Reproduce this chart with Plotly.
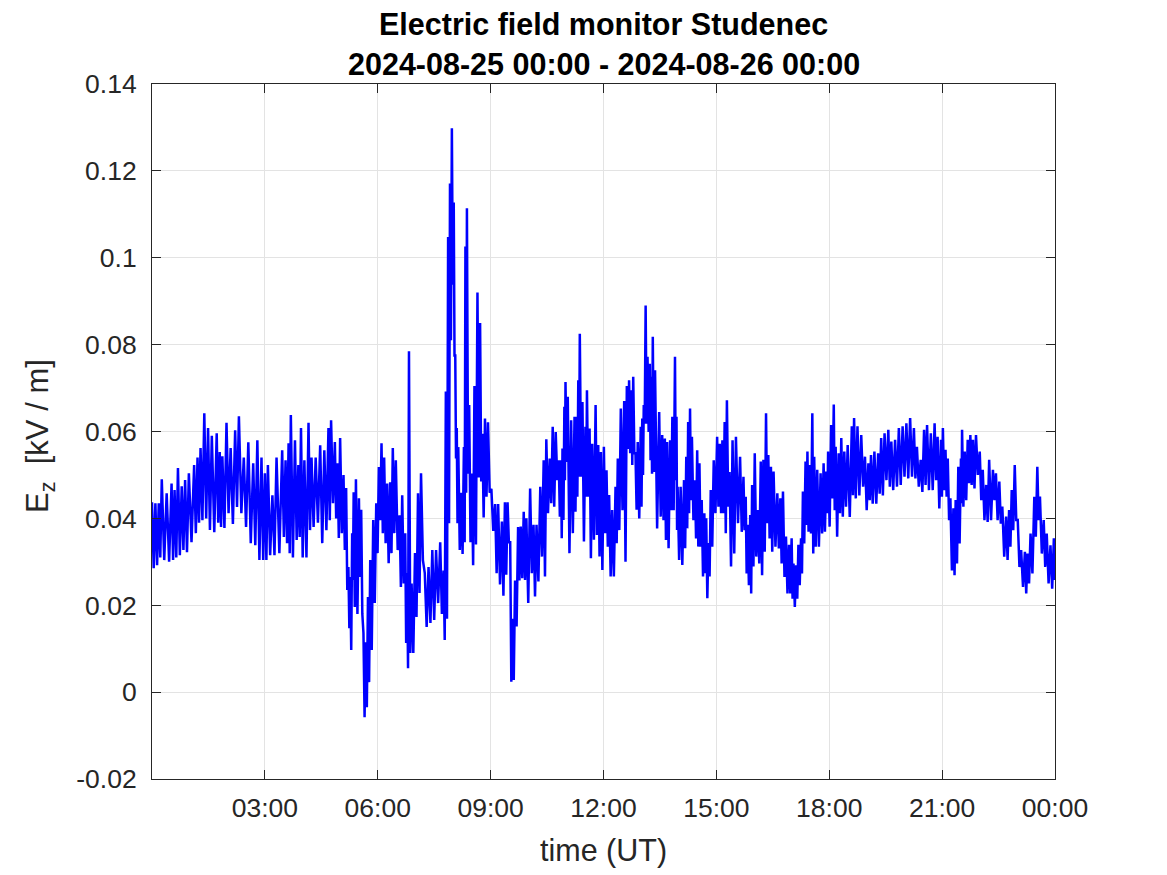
import plotly.graph_objects as go
import pandas as pd

# ---- data (hours after 2024-08-25 00:00 UT, kV/m) ----
hours = [
    0.00, 0.09, 0.18, 0.26, 0.39, 0.52, 0.60, 0.69, 0.79, 0.88, 0.98, 1.12, 1.21, 1.29, 1.39, 1.49,
    1.59, 1.72, 1.80, 1.87, 1.98, 2.09, 2.21, 2.31, 2.44, 2.56, 2.69, 2.80, 2.91, 3.00, 3.08, 3.20,
    3.31, 3.46, 3.55, 3.63, 3.69, 3.80, 3.89, 3.96, 4.05, 4.16, 4.24, 4.35, 4.47, 4.58, 4.69, 4.76,
    4.86, 4.93, 5.00, 5.09, 5.16, 5.22, 5.27, 5.32, 5.36, 5.42, 5.50, 5.56, 5.62, 5.68, 5.74, 5.80,
    5.88, 5.96, 6.03, 6.10, 6.17, 6.25, 6.33, 6.40, 6.48, 6.58, 6.65, 6.73, 6.78, 6.83, 6.90, 6.99,
    7.07, 7.15, 7.25, 7.35, 7.45, 7.55, 7.66, 7.75, 7.81, 7.87, 7.92, 7.97, 8.02, 8.06, 8.10, 8.14,
    8.22, 8.29, 8.33, 8.37, 8.43, 8.50, 8.57, 8.65, 8.72, 8.78, 8.85, 8.93, 9.02, 9.12, 9.20, 9.30,
    9.38, 9.45, 9.52, 9.58, 9.65, 9.73, 9.80, 9.88, 9.95, 10.05, 10.14, 10.22, 10.32, 10.41, 10.48, 10.57,
    10.65, 10.73, 10.81, 10.87, 10.91, 10.96, 10.99, 11.05, 11.14, 11.23, 11.28, 11.33, 11.37, 11.44, 11.52, 11.56,
    11.63, 11.70, 11.79, 11.86, 11.93, 12.01, 12.08, 12.15, 12.23, 12.32, 12.38, 12.46, 12.55, 12.62, 12.68, 12.74,
    12.79, 12.85, 12.91, 12.99, 13.03, 13.07, 13.12, 13.17, 13.23, 13.27, 13.31, 13.37, 13.48, 13.56, 13.63, 13.69,
    13.77, 13.83, 13.90, 13.94, 13.97, 14.05, 14.14, 14.20, 14.25, 14.30, 14.35, 14.43, 14.49, 14.55, 14.61, 14.68,
    14.73, 14.79, 14.85, 14.93, 15.02, 15.09, 15.16, 15.22, 15.28, 15.35, 15.43, 15.52, 15.63, 15.72, 15.78, 15.83,
    15.90, 15.95, 16.02, 16.10, 16.18, 16.25, 16.32, 16.38, 16.45, 16.52, 16.62, 16.70, 16.77, 16.85, 16.93, 17.00,
    17.05, 17.12, 17.18, 17.25, 17.30, 17.37, 17.42, 17.48, 17.55, 17.60, 17.68, 17.77, 17.85, 17.92, 17.97, 18.05,
    18.12, 18.17, 18.25, 18.32, 18.40, 18.49, 18.60, 18.66, 18.75, 18.85, 18.95, 19.04, 19.11, 19.20, 19.30, 19.38,
    19.47, 19.57, 19.65, 19.75, 19.85, 19.95, 20.05, 20.15, 20.25, 20.33, 20.43, 20.52, 20.60, 20.70, 20.80, 20.88,
    20.97, 21.02, 21.09, 21.15, 21.22, 21.30, 21.36, 21.43, 21.50, 21.53, 21.60, 21.68, 21.75, 21.82, 21.90, 22.00,
    22.08, 22.17, 22.25, 22.35, 22.43, 22.52, 22.60, 22.70, 22.78, 22.85, 22.93, 23.01, 23.10, 23.20, 23.27, 23.35,
    23.45, 23.53, 23.60, 23.70, 23.78, 23.88, 23.97,
]

e_high = [
    0.0437, 0.0435, 0.0435, 0.0490, 0.0458, 0.0480, 0.0465, 0.0516, 0.0474, 0.0488, 0.0504, 0.0523, 0.0540, 0.0562, 0.0642, 0.0608,
    0.0590, 0.0596, 0.0553, 0.0543, 0.0620, 0.0562, 0.0603, 0.0635, 0.0540, 0.0575, 0.0527, 0.0580, 0.0540, 0.0504, 0.0523, 0.0453,
    0.0540, 0.0557, 0.0534, 0.0573, 0.0638, 0.0580, 0.0523, 0.0608, 0.0534, 0.0620, 0.0540, 0.0540, 0.0568, 0.0557, 0.0608, 0.0626,
    0.0576, 0.0527, 0.0585, 0.0500, 0.0470, 0.0288, 0.0265, 0.0366, 0.0460, 0.0490, 0.0446, 0.0420, 0.0136, 0.0115, 0.0219, 0.0304,
    0.0396, 0.0435, 0.0518, 0.0573, 0.0540, 0.0480, 0.0483, 0.0562, 0.0534, 0.0407, 0.0453, 0.0366, 0.0274, 0.0785, 0.0250, 0.0320,
    0.0458, 0.0504, 0.0274, 0.0288, 0.0327, 0.0327, 0.0345, 0.0280, 0.0692, 0.1048, 0.1171, 0.1298, 0.1127, 0.0775, 0.0608, 0.0564,
    0.0459, 0.0564, 0.1026, 0.1114, 0.0661, 0.0503, 0.0705, 0.0920, 0.0850, 0.0595, 0.0630, 0.0621, 0.0468, 0.0433, 0.0433, 0.0393,
    0.0437, 0.0437, 0.0345, 0.0169, 0.0257, 0.0380, 0.0381, 0.0415, 0.0400, 0.0469, 0.0385, 0.0385, 0.0473, 0.0534, 0.0582, 0.0538,
    0.0611, 0.0599, 0.0534, 0.0534, 0.0561, 0.0657, 0.0714, 0.0680, 0.0626, 0.0634, 0.0634, 0.0718, 0.0825, 0.0668, 0.0611, 0.0695,
    0.0607, 0.0572, 0.0661, 0.0569, 0.0553, 0.0565, 0.0511, 0.0454, 0.0419, 0.0473, 0.0538, 0.0653, 0.0670, 0.0705, 0.0718, 0.0695,
    0.0726, 0.0550, 0.0576, 0.0611, 0.0630, 0.0661, 0.0890, 0.0772, 0.0756, 0.0726, 0.0818, 0.0741, 0.0645, 0.0592, 0.0584, 0.0576,
    0.0580, 0.0634, 0.0772, 0.0634, 0.0473, 0.0473, 0.0488, 0.0542, 0.0622, 0.0653, 0.0588, 0.0488, 0.0557, 0.0527, 0.0442, 0.0412,
    0.0400, 0.0343, 0.0465, 0.0534, 0.0588, 0.0572, 0.0580, 0.0622, 0.0672, 0.0507, 0.0580, 0.0588, 0.0542, 0.0496, 0.0450, 0.0385,
    0.0408, 0.0477, 0.0550, 0.0419, 0.0531, 0.0535, 0.0642, 0.0546, 0.0519, 0.0508, 0.0458, 0.0446, 0.0462, 0.0358, 0.0339, 0.0354,
    0.0296, 0.0292, 0.0339, 0.0354, 0.0462, 0.0531, 0.0554, 0.0523, 0.0642, 0.0542, 0.0512, 0.0504, 0.0527, 0.0508, 0.0554, 0.0615,
    0.0662, 0.0565, 0.0550, 0.0585, 0.0554, 0.0569, 0.0612, 0.0631, 0.0612, 0.0592, 0.0542, 0.0527, 0.0546, 0.0554, 0.0550, 0.0585,
    0.0596, 0.0604, 0.0577, 0.0581, 0.0608, 0.0612, 0.0619, 0.0631, 0.0608, 0.0565, 0.0535, 0.0604, 0.0615, 0.0596, 0.0619, 0.0588,
    0.0581, 0.0608, 0.0558, 0.0538, 0.0446, 0.0423, 0.0442, 0.0519, 0.0538, 0.0604, 0.0554, 0.0581, 0.0592, 0.0581, 0.0592, 0.0554,
    0.0512, 0.0477, 0.0535, 0.0512, 0.0504, 0.0485, 0.0427, 0.0404, 0.0419, 0.0465, 0.0523, 0.0396, 0.0327, 0.0323, 0.0319, 0.0365,
    0.0450, 0.0519, 0.0450, 0.0396, 0.0365, 0.0338, 0.0354,
]

e_low = [
    0.0285, 0.0292, 0.0310, 0.0304, 0.0300, 0.0304, 0.0310, 0.0315, 0.0327, 0.0322, 0.0345, 0.0366, 0.0390, 0.0396, 0.0400, 0.0373,
    0.0368, 0.0390, 0.0380, 0.0378, 0.0412, 0.0387, 0.0426, 0.0412, 0.0380, 0.0343, 0.0338, 0.0304, 0.0304, 0.0304, 0.0315, 0.0315,
    0.0320, 0.0357, 0.0343, 0.0320, 0.0310, 0.0350, 0.0357, 0.0310, 0.0310, 0.0373, 0.0380, 0.0390, 0.0343, 0.0373, 0.0396, 0.0435,
    0.0400, 0.0355, 0.0366, 0.0327, 0.0235, 0.0147, 0.0097, 0.0258, 0.0196, 0.0180, 0.0265, 0.0180, -0.0058, -0.0035, 0.0023, 0.0097,
    0.0205, 0.0320, 0.0396, 0.0366, 0.0343, 0.0297, 0.0320, 0.0366, 0.0327, 0.0242, 0.0250, 0.0113, 0.0055, 0.0090, 0.0090, 0.0173,
    0.0228, 0.0304, 0.0150, 0.0159, 0.0166, 0.0205, 0.0180, 0.0120, 0.0169, 0.0389, 0.0810, 0.0938, 0.0775, 0.0538, 0.0389, 0.0327,
    0.0318, 0.0345, 0.0459, 0.0503, 0.0345, 0.0292, 0.0340, 0.0494, 0.0485, 0.0402, 0.0450, 0.0459, 0.0371, 0.0274, 0.0248, 0.0222,
    0.0270, 0.0345, 0.0024, 0.0028, 0.0151, 0.0257, 0.0262, 0.0258, 0.0205, 0.0274, 0.0220, 0.0255, 0.0312, 0.0266, 0.0412, 0.0435,
    0.0427, 0.0488, 0.0404, 0.0354, 0.0396, 0.0488, 0.0530, 0.0320, 0.0366, 0.0415, 0.0450, 0.0496, 0.0496, 0.0347, 0.0450, 0.0450,
    0.0308, 0.0351, 0.0362, 0.0312, 0.0281, 0.0366, 0.0335, 0.0266, 0.0266, 0.0343, 0.0373, 0.0419, 0.0300, 0.0560, 0.0550, 0.0523,
    0.0550, 0.0420, 0.0400, 0.0427, 0.0500, 0.0618, 0.0618, 0.0599, 0.0534, 0.0503, 0.0507, 0.0377, 0.0404, 0.0396, 0.0350, 0.0331,
    0.0419, 0.0419, 0.0488, 0.0373, 0.0304, 0.0293, 0.0331, 0.0377, 0.0412, 0.0442, 0.0396, 0.0354, 0.0335, 0.0335, 0.0266, 0.0274,
    0.0216, 0.0266, 0.0335, 0.0412, 0.0427, 0.0412, 0.0412, 0.0366, 0.0427, 0.0289, 0.0319, 0.0389, 0.0369, 0.0373, 0.0273, 0.0246,
    0.0227, 0.0289, 0.0312, 0.0296, 0.0269, 0.0323, 0.0389, 0.0354, 0.0323, 0.0335, 0.0331, 0.0296, 0.0265, 0.0227, 0.0227, 0.0215,
    0.0196, 0.0215, 0.0246, 0.0273, 0.0342, 0.0385, 0.0369, 0.0365, 0.0319, 0.0335, 0.0335, 0.0365, 0.0369, 0.0412, 0.0381, 0.0446,
    0.0419, 0.0358, 0.0412, 0.0404, 0.0427, 0.0403, 0.0453, 0.0446, 0.0453, 0.0473, 0.0419, 0.0442, 0.0434, 0.0434, 0.0457, 0.0453,
    0.0488, 0.0473, 0.0465, 0.0473, 0.0477, 0.0496, 0.0492, 0.0496, 0.0492, 0.0473, 0.0461, 0.0477, 0.0465, 0.0465, 0.0488, 0.0423,
    0.0450, 0.0465, 0.0450, 0.0396, 0.0280, 0.0269, 0.0296, 0.0342, 0.0435, 0.0427, 0.0442, 0.0481, 0.0477, 0.0469, 0.0500, 0.0442,
    0.0396, 0.0392, 0.0396, 0.0442, 0.0396, 0.0388, 0.0312, 0.0304, 0.0335, 0.0373, 0.0396, 0.0288, 0.0242, 0.0227, 0.0250, 0.0273,
    0.0358, 0.0396, 0.0319, 0.0288, 0.0250, 0.0238, 0.0258,
]

y_tick_values = [-0.02, 0.0, 0.02, 0.04, 0.06, 0.08, 0.10, 0.12, 0.14]
y_tick_labels = ["-0.02", "0", "0.02", "0.04", "0.06", "0.08", "0.1", "0.12", "0.14"]
x_tick_hours = [3, 6, 9, 12, 15, 18, 21, 24]
x_tick_labels = ["03:00", "06:00", "09:00", "12:00", "15:00", "18:00", "21:00", "00:00"]

title_line1 = "Electric field monitor Studenec"
title_line2 = "2024-08-25 00:00 - 2024-08-26 00:00"

# ---- build the trace: each reading contributes its high and its low sample ----
start = pd.Timestamp("2024-08-25 00:00")
t_vals, e_vals = [], []
for i, h in enumerate(hours):
    nxt = hours[i + 1] if i + 1 < len(hours) else 24.0
    t_vals.append(start + pd.Timedelta(hours=h))
    e_vals.append(e_high[i])
    t_vals.append(start + pd.Timedelta(hours=(h + nxt) / 2))
    e_vals.append(e_low[i])

FONT = "Liberation Sans, Arial, Helvetica, sans-serif"
AX = "#262626"

# plot area in the page: x 152..1055, y 84..779 (page body adds an 8 px offset)
ML, MR, MT, MB = 144, 120, 76, 104
PW, PH = 1167 - ML - MR, 875 - MT - MB

fig = go.Figure()
fig.add_trace(go.Scatter(x=t_vals, y=e_vals, mode="lines",
                         line=dict(color="#0000ff", width=2.5), showlegend=False,
                         hoverinfo="x+y"))

fig.update_layout(
    width=1167, height=875,
    margin=dict(l=ML, r=MR, t=MT, b=MB),
    paper_bgcolor="white", plot_bgcolor="white",
    font=dict(family=FONT, color=AX, size=26),
    showlegend=False,
)

fig.update_xaxes(
    type="date",
    range=[start, start + pd.Timedelta(hours=24)],
    tickvals=[start + pd.Timedelta(hours=h) for h in x_tick_hours],
    ticktext=x_tick_labels,
    showgrid=True, gridcolor="#e3e3e3", gridwidth=1,
    showline=True, linecolor=AX, linewidth=1, mirror="ticks",
    ticks="inside", ticklen=9, tickcolor=AX, tickwidth=1,
    tickfont=dict(size=26.5, color=AX, family=FONT),
    ticklabelstandoff=5,
    zeroline=False,
)
fig.update_yaxes(
    range=[-0.02, 0.14],
    tickvals=y_tick_values, ticktext=y_tick_labels,
    showgrid=True, gridcolor="#e3e3e3", gridwidth=1,
    showline=True, linecolor=AX, linewidth=1, mirror="ticks",
    ticks="inside", ticklen=9, tickcolor=AX, tickwidth=1,
    tickfont=dict(size=26.5, color=AX, family=FONT),
    ticklabelstandoff=9,
    zeroline=False,
)

# titles, positioned relative to the plot area (reference page pixels)
fig.add_annotation(text="<b>" + title_line1 + "</b>", xref="paper", yref="paper",
                   x=0.5, y=1 + (84 - 24) / PH, yanchor="middle", xanchor="center",
                   showarrow=False, font=dict(size=30.5, color="black", family=FONT))
fig.add_annotation(text="<b>" + title_line2 + "</b>", xref="paper", yref="paper",
                   x=0.5, y=1 + (84 - 64.5) / PH, yanchor="middle", xanchor="center",
                   showarrow=False, font=dict(size=30.5, color="black", family=FONT))
fig.add_annotation(text="time (UT)", xref="paper", yref="paper",
                   x=0.5, y=-(850 - 779) / PH, yanchor="middle", xanchor="center",
                   showarrow=False, font=dict(size=30.5, color=AX, family=FONT))
fig.add_annotation(text="E<sub>z</sub>  [kV / m]", xref="paper", yref="paper",
                   x=(40 - 152) / PW, y=(779 - 436) / PH, yanchor="middle", xanchor="center",
                   textangle=-90, showarrow=False, font=dict(size=31, color=AX, family=FONT))

fig.write_html("out.html")
